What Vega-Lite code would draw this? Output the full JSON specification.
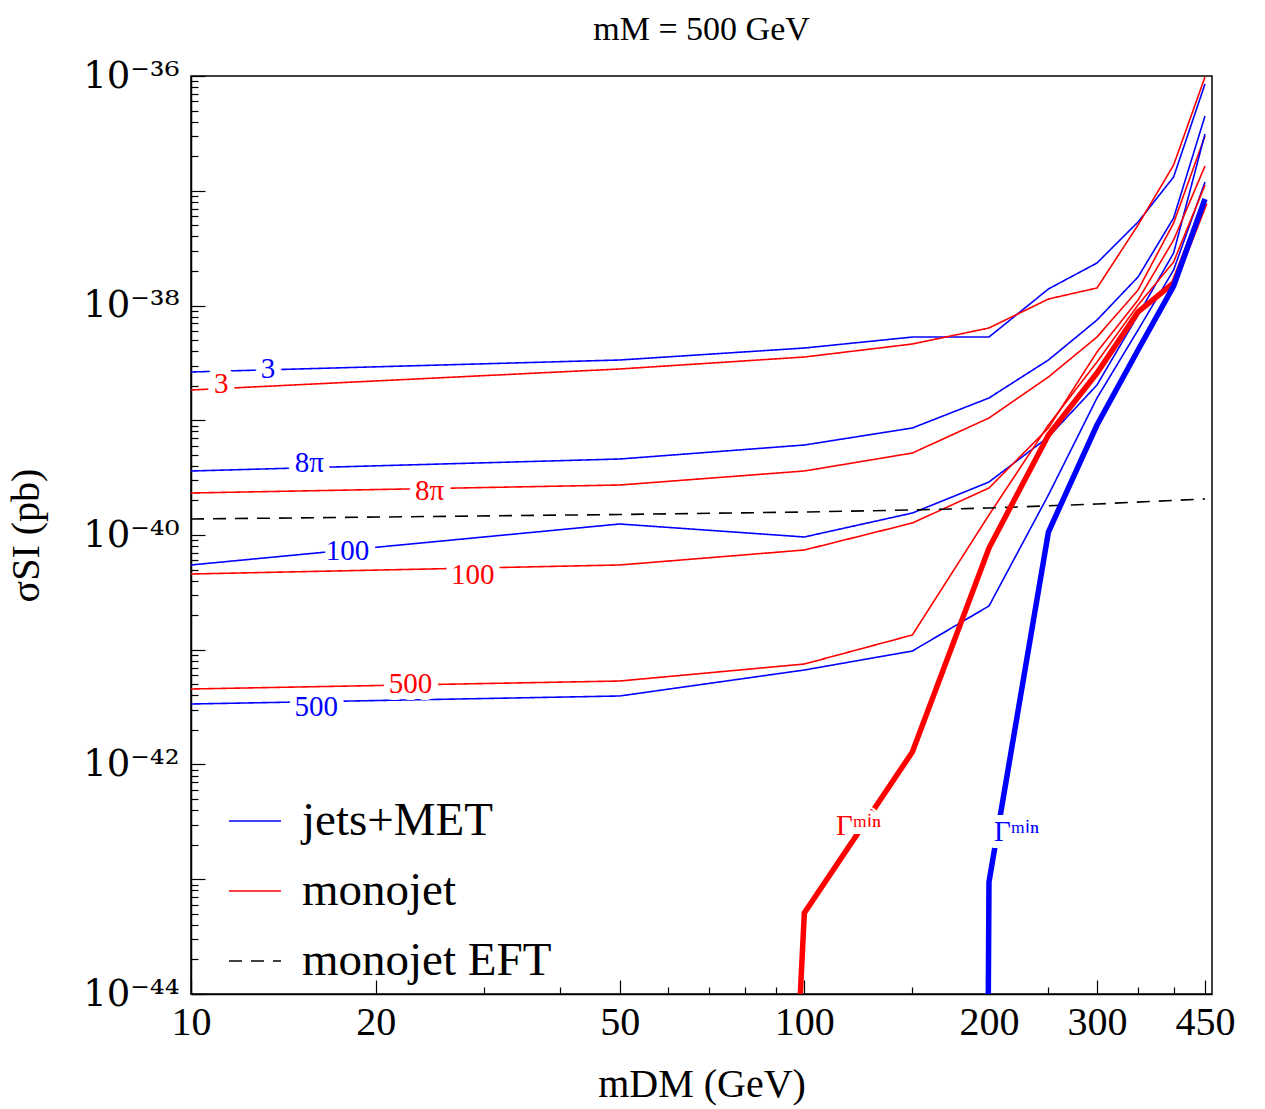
{
  "$schema": "https://vega.github.io/schema/vega-lite/v6.json",
  "width": 1021,
  "height": 918,
  "autosize": {"type": "none"},
  "padding": {"left": 191, "top": 76, "right": 53, "bottom": 115},
  "background": "white",
  "title": {"text": "mM = 500 GeV", "font": "Liberation Serif", "fontSize": 34, "fontWeight": "normal", "color": "black", "anchor": "middle", "offset": 10},
  "datasets": {
    "lines": [
      {"curve": "b3", "kind": "jets+MET", "m": 10, "s": 2.634e-39},
      {"curve": "b3", "kind": "jets+MET", "m": 50, "s": 3.35e-39},
      {"curve": "b3", "kind": "jets+MET", "m": 100, "s": 4.26e-39},
      {"curve": "b3", "kind": "jets+MET", "m": 150, "s": 5.31e-39},
      {"curve": "b3", "kind": "jets+MET", "m": 200, "s": 5.31e-39},
      {"curve": "b3", "kind": "jets+MET", "m": 250, "s": 1.393e-38},
      {"curve": "b3", "kind": "jets+MET", "m": 300, "s": 2.346e-38},
      {"curve": "b3", "kind": "jets+MET", "m": 350, "s": 5.34e-38},
      {"curve": "b3", "kind": "jets+MET", "m": 400, "s": 1.318e-37},
      {"curve": "b3", "kind": "jets+MET", "m": 450, "s": 8.52e-37},
      {"curve": "r3", "kind": "monojet", "m": 10, "s": 1.835e-39},
      {"curve": "r3", "kind": "monojet", "m": 50, "s": 2.797e-39},
      {"curve": "r3", "kind": "monojet", "m": 100, "s": 3.557e-39},
      {"curve": "r3", "kind": "monojet", "m": 150, "s": 4.618e-39},
      {"curve": "r3", "kind": "monojet", "m": 200, "s": 6.365e-39},
      {"curve": "r3", "kind": "monojet", "m": 250, "s": 1.139e-38},
      {"curve": "r3", "kind": "monojet", "m": 300, "s": 1.421e-38},
      {"curve": "r3", "kind": "monojet", "m": 350, "s": 5.03e-38},
      {"curve": "r3", "kind": "monojet", "m": 400, "s": 1.676e-37},
      {"curve": "r3", "kind": "monojet", "m": 450, "s": 9.8e-37},
      {"curve": "b8", "kind": "jets+MET", "m": 10, "s": 3.612e-40},
      {"curve": "b8", "kind": "jets+MET", "m": 50, "s": 4.595e-40},
      {"curve": "b8", "kind": "jets+MET", "m": 100, "s": 6.085e-40},
      {"curve": "b8", "kind": "jets+MET", "m": 150, "s": 8.56e-40},
      {"curve": "b8", "kind": "jets+MET", "m": 200, "s": 1.563e-39},
      {"curve": "b8", "kind": "jets+MET", "m": 250, "s": 3.35e-39},
      {"curve": "b8", "kind": "jets+MET", "m": 300, "s": 7.47e-39},
      {"curve": "b8", "kind": "jets+MET", "m": 350, "s": 1.772e-38},
      {"curve": "b8", "kind": "jets+MET", "m": 400, "s": 5.79e-38},
      {"curve": "b8", "kind": "jets+MET", "m": 450, "s": 4.48e-37},
      {"curve": "r8", "kind": "monojet", "m": 10, "s": 2.323e-40},
      {"curve": "r8", "kind": "monojet", "m": 50, "s": 2.727e-40},
      {"curve": "r8", "kind": "monojet", "m": 100, "s": 3.612e-40},
      {"curve": "r8", "kind": "monojet", "m": 150, "s": 5.18e-40},
      {"curve": "r8", "kind": "monojet", "m": 200, "s": 1.046e-39},
      {"curve": "r8", "kind": "monojet", "m": 250, "s": 2.382e-39},
      {"curve": "r8", "kind": "monojet", "m": 300, "s": 5.31e-39},
      {"curve": "r8", "kind": "monojet", "m": 350, "s": 1.365e-38},
      {"curve": "r8", "kind": "monojet", "m": 400, "s": 5.236e-38},
      {"curve": "r8", "kind": "monojet", "m": 450, "s": 3.0e-37},
      {"curve": "b100", "kind": "jets+MET", "m": 10, "s": 5.48e-41},
      {"curve": "b100", "kind": "jets+MET", "m": 50, "s": 1.247e-40},
      {"curve": "b100", "kind": "jets+MET", "m": 100, "s": 9.61e-41},
      {"curve": "b100", "kind": "jets+MET", "m": 150, "s": 1.554e-40},
      {"curve": "b100", "kind": "jets+MET", "m": 200, "s": 2.897e-40},
      {"curve": "b100", "kind": "jets+MET", "m": 250, "s": 7.145e-40},
      {"curve": "b100", "kind": "jets+MET", "m": 300, "s": 2.029e-39},
      {"curve": "b100", "kind": "jets+MET", "m": 350, "s": 8.26e-39},
      {"curve": "b100", "kind": "jets+MET", "m": 400, "s": 2.868e-38},
      {"curve": "b100", "kind": "jets+MET", "m": 450, "s": 3.123e-37},
      {"curve": "r100", "kind": "monojet", "m": 10, "s": 4.572e-41},
      {"curve": "r100", "kind": "monojet", "m": 50, "s": 5.48e-41},
      {"curve": "r100", "kind": "monojet", "m": 100, "s": 7.4e-41},
      {"curve": "r100", "kind": "monojet", "m": 150, "s": 1.272e-40},
      {"curve": "r100", "kind": "monojet", "m": 200, "s": 2.568e-40},
      {"curve": "r100", "kind": "monojet", "m": 250, "s": 8.56e-40},
      {"curve": "r100", "kind": "monojet", "m": 300, "s": 3.934e-39},
      {"curve": "r100", "kind": "monojet", "m": 350, "s": 1.117e-38},
      {"curve": "r100", "kind": "monojet", "m": 400, "s": 3.723e-38},
      {"curve": "r100", "kind": "monojet", "m": 450, "s": 1.643e-37},
      {"curve": "b500", "kind": "jets+MET", "m": 10, "s": 3.367e-42},
      {"curve": "b500", "kind": "jets+MET", "m": 50, "s": 3.954e-42},
      {"curve": "b500", "kind": "jets+MET", "m": 100, "s": 6.66e-42},
      {"curve": "b500", "kind": "jets+MET", "m": 150, "s": 9.75e-42},
      {"curve": "b500", "kind": "jets+MET", "m": 200, "s": 2.406e-41},
      {"curve": "b500", "kind": "jets+MET", "m": 250, "s": 2.232e-40},
      {"curve": "b500", "kind": "jets+MET", "m": 300, "s": 1.563e-39},
      {"curve": "b500", "kind": "jets+MET", "m": 350, "s": 6.115e-39},
      {"curve": "b500", "kind": "jets+MET", "m": 400, "s": 2.039e-38},
      {"curve": "b500", "kind": "jets+MET", "m": 450, "s": 1.192e-37},
      {"curve": "r500", "kind": "monojet", "m": 10, "s": 4.55e-42},
      {"curve": "r500", "kind": "monojet", "m": 50, "s": 5.34e-42},
      {"curve": "r500", "kind": "monojet", "m": 100, "s": 7.51e-42},
      {"curve": "r500", "kind": "monojet", "m": 150, "s": 1.345e-41},
      {"curve": "r500", "kind": "monojet", "m": 200, "s": 1.494e-40},
      {"curve": "r500", "kind": "monojet", "m": 250, "s": 9.09e-40},
      {"curve": "r500", "kind": "monojet", "m": 300, "s": 3.218e-39},
      {"curve": "r500", "kind": "monojet", "m": 350, "s": 1.01e-38},
      {"curve": "r500", "kind": "monojet", "m": 400, "s": 2.394e-38},
      {"curve": "r500", "kind": "monojet", "m": 450, "s": 1.122e-37},
      {"curve": "eft", "kind": "monojet EFT", "m": 10, "s": 1.378e-40},
      {"curve": "eft", "kind": "monojet EFT", "m": 50, "s": 1.509e-40},
      {"curve": "eft", "kind": "monojet EFT", "m": 100, "s": 1.586e-40},
      {"curve": "eft", "kind": "monojet EFT", "m": 150, "s": 1.652e-40},
      {"curve": "eft", "kind": "monojet EFT", "m": 200, "s": 1.719e-40},
      {"curve": "eft", "kind": "monojet EFT", "m": 300, "s": 1.863e-40},
      {"curve": "eft", "kind": "monojet EFT", "m": 450, "s": 2.059e-40}
    ],
    "gamma": [
      {"curve": "rG", "kind": "monojet", "m": 98.5, "s": 1e-44},
      {"curve": "rG", "kind": "monojet", "m": 100, "s": 5.08e-44},
      {"curve": "rG", "kind": "monojet", "m": 150, "s": 1.285e-42},
      {"curve": "rG", "kind": "monojet", "m": 200, "s": 7.7e-41},
      {"curve": "rG", "kind": "monojet", "m": 250, "s": 7.44e-40},
      {"curve": "rG", "kind": "monojet", "m": 300, "s": 2.58e-39},
      {"curve": "rG", "kind": "monojet", "m": 350, "s": 8.78e-39},
      {"curve": "rG", "kind": "monojet", "m": 400, "s": 1.571e-38},
      {"curve": "rG", "kind": "monojet", "m": 450, "s": 7.82e-38},
      {"curve": "bG", "kind": "jets+MET", "m": 199.5, "s": 1e-44},
      {"curve": "bG", "kind": "jets+MET", "m": 200, "s": 9.46e-44},
      {"curve": "bG", "kind": "jets+MET", "m": 250, "s": 1.062e-40},
      {"curve": "bG", "kind": "jets+MET", "m": 300, "s": 9.09e-40},
      {"curve": "bG", "kind": "jets+MET", "m": 350, "s": 4.094e-39},
      {"curve": "bG", "kind": "jets+MET", "m": 400, "s": 1.479e-38},
      {"curve": "bG", "kind": "jets+MET", "m": 450, "s": 8.48e-38}
    ],
    "labels": [
      {"m": 13.35, "s": 2.797e-39, "text": "3", "kind": "jets+MET"},
      {"m": 11.2, "s": 2.07e-39, "text": "3", "kind": "monojet"},
      {"m": 15.6, "s": 4.24e-40, "text": "8π", "kind": "jets+MET"},
      {"m": 24.5, "s": 2.417e-40, "text": "8π", "kind": "monojet"},
      {"m": 18.0, "s": 7.25e-41, "text": "100", "kind": "jets+MET"},
      {"m": 28.8, "s": 4.48e-41, "text": "100", "kind": "monojet"},
      {"m": 16.0, "s": 3.17e-42, "text": "500", "kind": "jets+MET"},
      {"m": 22.8, "s": 5.03e-42, "text": "500", "kind": "monojet"},
      {"m": 122.6, "s": 2.91e-43, "text": "Γᵐⁱⁿ", "kind": "monojet"},
      {"m": 221.8, "s": 2.58e-43, "text": "Γᵐⁱⁿ", "kind": "jets+MET"}
    ]
  },
  "encoding": {
    "x": {
      "field": "m", "type": "quantitative",
      "scale": {"type": "log", "domain": [10, 462], "nice": false, "zero": false},
      "axis": {
        "title": "mDM (GeV)",
        "values": [10, 20, 30, 40, 50, 60, 70, 80, 90, 100, 150, 200, 250, 300, 350, 400, 450],
        "labelExpr": "indexof([10,20,50,100,200,300,450], datum.value) >= 0 ? '' + datum.value : ''",
        "tickSize": {"condition": {"test": "indexof([10,20,50,100,200,300,450], datum.value) >= 0", "value": -14}, "value": -7},
        "labelPadding": 22,
        "titlePadding": 15
      }
    },
    "y": {
      "field": "s", "type": "quantitative",
      "scale": {"type": "log", "domain": [1e-44, 1e-36], "nice": false, "zero": false},
      "axis": {
        "title": "σSI (pb)",
        "values": [1e-44, 2e-44, 3e-44, 4e-44, 5e-44, 6e-44, 7e-44, 8e-44, 9e-44,
                   1e-43, 2e-43, 3e-43, 4e-43, 5e-43, 6e-43, 7e-43, 8e-43, 9e-43,
                   1e-42, 2e-42, 3e-42, 4e-42, 5e-42, 6e-42, 7e-42, 8e-42, 9e-42,
                   1e-41, 2e-41, 3e-41, 4e-41, 5e-41, 6e-41, 7e-41, 8e-41, 9e-41,
                   1e-40, 2e-40, 3e-40, 4e-40, 5e-40, 6e-40, 7e-40, 8e-40, 9e-40,
                   1e-39, 2e-39, 3e-39, 4e-39, 5e-39, 6e-39, 7e-39, 8e-39, 9e-39,
                   1e-38, 2e-38, 3e-38, 4e-38, 5e-38, 6e-38, 7e-38, 8e-38, 9e-38,
                   1e-37, 2e-37, 3e-37, 4e-37, 5e-37, 6e-37, 7e-37, 8e-37, 9e-37, 1e-36],
        "labelExpr": "abs(log(datum.value)/LN10 - round(log(datum.value)/LN10)) < 0.01 ? (round(log(datum.value)/LN10) == -36 ? '10⁻³⁶' : round(log(datum.value)/LN10) == -38 ? '10⁻³⁸' : round(log(datum.value)/LN10) == -40 ? '10⁻⁴⁰' : round(log(datum.value)/LN10) == -42 ? '10⁻⁴²' : round(log(datum.value)/LN10) == -44 ? '10⁻⁴⁴' : '') : ''",
        "tickSize": {"condition": {"test": "abs(log(datum.value)/LN10 - round(log(datum.value)/LN10)) < 0.01", "value": -14}, "value": -7},
        "labelFont": "DejaVu Serif",
        "labelFontSize": 37,
        "labelPadding": 26,
        "titlePadding": 36
      }
    }
  },
  "layer": [
    {
      "data": {"name": "lines"},
      "mark": {"type": "line", "strokeWidth": 1.6, "clip": true},
      "encoding": {
        "detail": {"field": "curve", "type": "nominal"},
        "color": {"field": "kind", "type": "nominal", "title": null,
                  "scale": {"domain": ["jets+MET", "monojet", "monojet EFT"], "range": ["#0000ff", "#ff0000", "#000000"]}},
        "strokeDash": {"field": "kind", "type": "nominal", "title": null,
                  "scale": {"domain": ["jets+MET", "monojet", "monojet EFT"], "range": [[1, 0], [1, 0], [13, 9]]}}
      }
    },
    {
      "data": {"name": "gamma"},
      "transform": [{"filter": "datum.kind == 'monojet'"}],
      "mark": {"type": "line", "strokeWidth": 5.5, "color": "#ff0000", "clip": true},
      "encoding": {}
    },
    {
      "data": {"name": "gamma"},
      "transform": [{"filter": "datum.kind == 'jets+MET'"}],
      "mark": {"type": "line", "strokeWidth": 5.5, "color": "#0000ff", "clip": true},
      "encoding": {}
    },
    {
      "data": {"name": "labels"},
      "mark": {"type": "text", "font": "Liberation Serif", "fontSize": 29, "align": "center", "baseline": "middle", "fill": "white", "stroke": "white", "strokeWidth": 14, "strokeJoin": "round"},
      "encoding": {"text": {"field": "text"}}
    },
    {
      "data": {"name": "labels"},
      "transform": [{"filter": "datum.kind == 'jets+MET'"}],
      "mark": {"type": "text", "font": "Liberation Serif", "fontSize": 29, "align": "center", "baseline": "middle", "color": "#0000ff"},
      "encoding": {"text": {"field": "text"}}
    },
    {
      "data": {"name": "labels"},
      "transform": [{"filter": "datum.kind == 'monojet'"}],
      "mark": {"type": "text", "font": "Liberation Serif", "fontSize": 29, "align": "center", "baseline": "middle", "color": "#ff0000"},
      "encoding": {"text": {"field": "text"}}
    }
  ],
  "config": {
    "view": {"stroke": "black", "strokeWidth": 1.5},
    "font": "Liberation Serif",
    "axis": {
      "grid": false,
      "domainColor": "black",
      "domainWidth": 1.5,
      "tickColor": "black",
      "tickWidth": 1.2,
      "labelFont": "Liberation Serif",
      "labelFontSize": 40,
      "labelColor": "black",
      "labelOverlap": false,
      "labelFlush": false,
      "titleFont": "Liberation Serif",
      "titleFontSize": 40,
      "titleFontWeight": "normal",
      "titleColor": "black"
    },
    "legend": {
      "orient": "none",
      "legendX": 37,
      "legendY": 718,
      "symbolType": "stroke",
      "symbolSize": 2700,
      "symbolStrokeWidth": 1.5,
      "labelFont": "Liberation Serif",
      "labelFontSize": 47,
      "labelColor": "black",
      "labelOffset": 20,
      "rowPadding": 20,
      "labelLimit": 400
    }
  }
}
